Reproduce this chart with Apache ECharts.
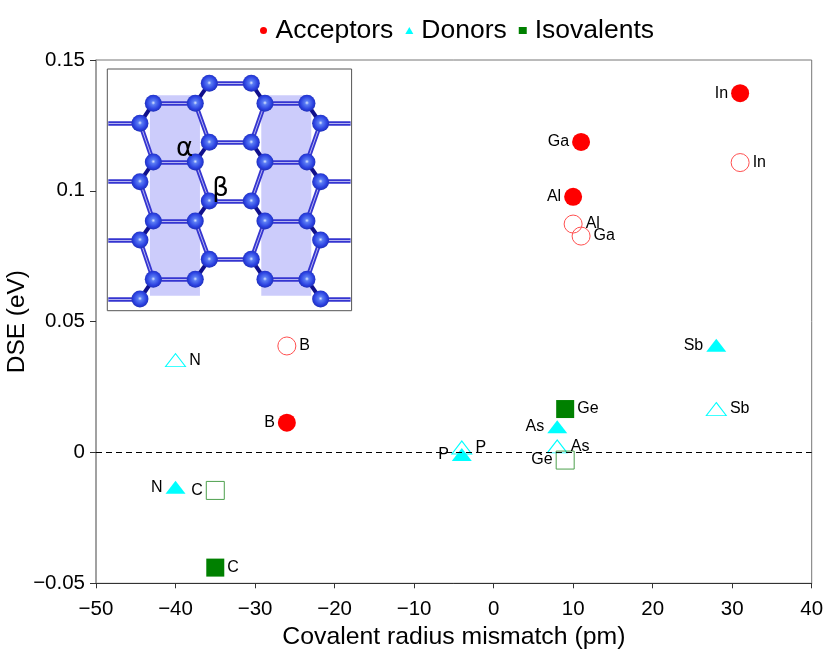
<!DOCTYPE html>
<html><head><meta charset="utf-8">
<script src="https://cdn.jsdelivr.net/npm/echarts@6/dist/echarts.min.js"></script>
<style>html,body{margin:0;padding:0;background:#fff}#c{width:830px;height:652px}</style>
</head><body><div id="c"></div>
<script>
const FONT='"Liberation Sans",Arial,sans-serif';
// [name, mismatch (pm), DSE (eV), label side]
const acceptorsFilled=[['In',31,0.1373,'left'],['Ga',11,0.1187,'left'],['Al',10,0.0977,'left'],['B',-26,0.0114,'left']];
const acceptorsHollow=[['In',31,0.1108,'right'],['Al',10,0.0873,'right'],['Ga',11,0.0827,'right'],['B',-26,0.0407,'right']];
const donorsFilled=[['N',-40,-0.0133,'left'],['P',-4,-0.0008,'left'],['As',8,0.0098,'left'],['Sb',28,0.041,'left']];
const donorsHollow=[['N',-40,0.0353,'right'],['P',-4,0.0019,'right'],['As',8,0.0023,'right'],['Sb',28,0.0166,'right']];
const isoFilled=[['C',-35,-0.044,'right'],['Ge',9,0.0166,'right']];
const isoHollow=[['C',-35,-0.0145,'left'],['Ge',9,-0.0029,'left']];
const legendNames=['Acceptors','Donors','Isovalents'];

// inset lattice
const atoms=[[328,70],[454,70],[160,130],[286,130],[495,130],[621,130],[120,190],[662,190],[328,247],[454,247],
[160,306],[286,306],[495,306],[621,306],[120,365],[662,365],[328,423],[454,423],[160,483],[286,483],[495,483],[621,483],
[120,540],[662,540],[328,598],[454,598],[160,658],[286,658],[495,658],[621,658],[120,717],[662,717]];
const darkBonds=[[120,190,160,130],[286,130,328,70],[454,70,495,130],[621,130,662,190],[120,365,160,306],[286,306,328,247],[454,247,495,306],[621,306,662,365],
[120,540,160,483],[286,483,328,423],[454,423,495,483],[621,483,662,540],[120,717,160,658],[286,658,328,598],[454,598,495,658],[621,658,662,717]];
const lightBonds=[[328,70,454,70],[160,130,286,130],[495,130,621,130],[25,190,120,190],[662,190,752,190],[328,247,454,247],[160,306,286,306],[495,306,621,306],
[25,365,120,365],[662,365,752,365],[328,423,454,423],[160,483,286,483],[495,483,621,483],[25,540,120,540],[662,540,752,540],[328,598,454,598],[160,658,286,658],[495,658,621,658],[25,717,120,717],[662,717,752,717],
[120,190,160,306],[286,130,328,247],[454,247,495,130],[621,306,662,190],[120,365,160,483],[286,306,328,423],[454,423,495,306],[621,483,662,365],[120,540,160,658],[286,483,328,598],[454,598,495,483],[621,658,662,540]];
const shadeBands=[[150,300],[484,634]];
const greek=[['α',254,268],['β',362,388]];

function pts(a){return a.map(d=>({name:d[0],value:[d[1],d[2]],label:{position:d[3]}}));}
function lab(){return {show:true,formatter:'{b}',fontFamily:FONT,fontSize:16,color:'#000',distance:3};}
function ser(name,sym,size,color,edge,data){
  return {name,type:'scatter',xAxisIndex:0,yAxisIndex:0,symbol:sym,symbolSize:size,z:edge?3:4,
    itemStyle:edge?{color:'rgba(255,255,255,0)',borderColor:edge,borderWidth:1,opacity:1}:{color,opacity:1},
    label:lab(),data:pts(data),clip:false};
}
function lines(b,color,w,z){return {type:'lines',coordinateSystem:'cartesian2d',xAxisIndex:1,yAxisIndex:1,z,silent:true,
  lineStyle:{color,width:w,opacity:1,curveness:0},data:b.map(s=>({coords:[[s[0],s[1]],[s[2],s[3]]]}))};}

const option={
  animation:false,backgroundColor:'#fff',
  legend:{data:legendNames,top:12,left:255,itemWidth:8,itemHeight:7,itemGap:12,
    textStyle:{fontFamily:FONT,fontSize:26.5,color:'#000',padding:[0,0,0,3]}},
  grid:[{left:96,width:715.7,top:60,height:523.3,show:true,borderColor:'#777',borderWidth:1,outerBoundsMode:'none'},
        {left:107.3,top:69,width:244.3,height:241.7,show:true,borderColor:'#555',borderWidth:1,backgroundColor:'#fff',z:5,outerBoundsMode:'none'}],
  xAxis:[{type:'value',min:-50,max:40,interval:10,name:'Covalent radius mismatch (pm)',nameLocation:'middle',nameGap:41,nameMoveOverlap:false,
      nameTextStyle:{fontFamily:FONT,fontSize:24.8,color:'#000'},
      axisLine:{show:true,onZero:false,lineStyle:{color:'#333',width:1}},axisTick:{show:true,inside:false,length:5,lineStyle:{color:'#333'}},
      axisLabel:{fontFamily:FONT,fontSize:20.5,color:'#000',margin:16,formatter:v=>String(v).replace('-','\u2212')},splitLine:{show:false}},
    {gridIndex:1,type:'value',min:22,max:755,show:false,splitLine:{show:false}}],
  yAxis:[{type:'value',min:-0.05,max:0.15,interval:0.05,name:'DSE (eV)',nameLocation:'middle',nameGap:67,nameMoveOverlap:false,
      nameTextStyle:{fontFamily:FONT,fontSize:24.4,color:'#000'},
      axisLine:{show:true,onZero:false,lineStyle:{color:'#999',width:1.5}},axisTick:{show:true,inside:false,length:6,lineStyle:{color:'#333'}},
      axisLabel:{fontFamily:FONT,fontSize:20.5,color:'#000',margin:11,formatter:v=>String(+v.toFixed(2)).replace('-','\u2212')},splitLine:{show:false}},
    {gridIndex:1,type:'value',min:27,max:752,inverse:true,show:false,splitLine:{show:false}}],
  series:[
    ser('Acceptors','circle',18,'#ff0000',null,acceptorsFilled),
    ser('Acceptors hollow','circle',18,'#ff0000','#ff5050',acceptorsHollow),
    ser('Donors','triangle',[20,13],'#00ffff',null,donorsFilled),
    ser('Donors hollow','triangle',[20,13],'#00ffff','#00ffff',donorsHollow),
    ser('Isovalents','rect',18,'#008000',null,isoFilled),
    ser('Isovalents hollow','rect',18,'#008000','#4da04d',isoHollow),
    {type:'line',xAxisIndex:0,yAxisIndex:0,data:[],silent:true,z:2,
      markLine:{symbol:'none',silent:true,label:{show:false},lineStyle:{color:'#000',type:[6,4],width:1},data:[{yAxis:0}]}},
    {type:'custom',xAxisIndex:1,yAxisIndex:1,silent:true,z:6,data:shadeBands,clip:true,
      renderItem:(p,api)=>{const a=api.coord([api.value(0),106]),b=api.coord([api.value(1),707]);
        return {type:'rect',shape:{x:a[0],y:a[1],width:b[0]-a[0],height:b[1]-a[1]},style:{fill:'#ccccfb'}};},
      encode:{x:[0,1]}},
    lines(lightBonds,'#3535d0',4.5,7),
    lines(lightBonds,'#b4b4f0',1,8),
    lines(darkBonds,'#10108c',4,8),
    {type:'scatter',xAxisIndex:1,yAxisIndex:1,symbolSize:17,z:9,silent:true,data:atoms,
      itemStyle:{opacity:1,color:{type:'radial',x:0.5,y:0.47,r:0.55,colorStops:[{offset:0,color:'#dce8ff'},{offset:0.22,color:'#5a7cf4'},{offset:0.7,color:'#2a40e0'},{offset:1,color:'#1c2cb0'}]}}},
    {type:'scatter',xAxisIndex:1,yAxisIndex:1,symbolSize:1,z:10,silent:true,itemStyle:{color:'rgba(0,0,0,0)',opacity:1},
      data:greek.map(g=>({name:g[0],value:[g[1],g[2]]})),
      label:{show:true,position:'inside',formatter:'{b}',fontFamily:'"DejaVu Sans",sans-serif',fontSize:26,color:'#000'}}
  ]
};
echarts.init(document.getElementById('c')).setOption(option);
</script></body></html>
